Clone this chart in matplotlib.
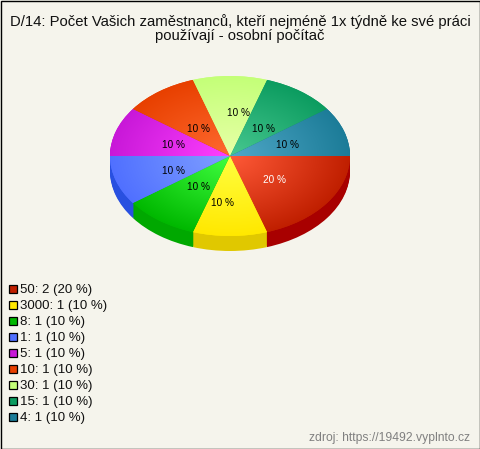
import matplotlib
matplotlib.use('Agg')
import matplotlib.pyplot as plt
import numpy as np
from matplotlib.colors import to_rgb
from matplotlib.patches import Rectangle

plt.rcParams['font.family'] = ['Liberation Sans', 'DejaVu Sans']

title = 'D/14: Počet Vašich zaměstnanců, kteří nejméně 1x týdně ke své práci\npoužívají - osobní počítač'
source = 'zdroj: https://19492.vyplnto.cz'
categories = ['50', '3000', '8', '1', '5', '10', '30', '15', '4']
counts = [2, 1, 1, 1, 1, 1, 1, 1, 1]
percents = [20, 10, 10, 10, 10, 10, 10, 10, 10]

edge_colors = ['#c01f00', '#ffe800', '#00b800', '#5070ff', '#c818d8', '#e84000', '#c4ff78', '#0c9c60', '#1c7c98']
center_colors = ['#ff5a38', '#ffff40', '#40ff40', '#80a0ff', '#ff40ff', '#ff6a30', '#e8ffa8', '#48c890', '#50a8c8']
side_colors = ['#a80000', '#e0c800', '#00a800', '#2850e0', '#a000b0', '#c03000', '#a0d060', '#087048', '#145c70']
label_colors = ['white'] + ['black'] * 8
# pixel nudges of the percent labels, the original does not centre them exactly
label_dx = [-4, -7, 4, 1, 1, 4, 8, -2, 0]
label_dy = [0, 7, -1, 3, 1, 5, -3, 5, 1]

W, H = 480, 449
cx, cy, rx, ry, depth = 230, 156, 120, 80, 15
bg = '#f5f4ec'

fig = plt.figure(figsize=(W / 100, H / 100), dpi=100, facecolor=bg)

# pie axes: data unit circle maps onto the ellipse
ax = fig.add_axes([0, 0, 1, 1])
ax.axis('off')

# side wall, stacked pies from the bottom up
for d in range(depth, 0, -1):
    ax.pie(counts, colors=side_colors, startangle=0, counterclock=False,
           center=(0, -d / ry), radius=1)

wedges, _, autotexts = ax.pie(counts, colors=edge_colors, startangle=0, counterclock=False,
                              autopct='%d %%', pctdistance=0.5, radius=1,
                              textprops={'fontsize': 7.2})

# radial gradient on every top slice
yy, xx = np.mgrid[-1:1:400j, -1:1:400j]
rr = np.clip(np.hypot(xx, yy), 0, 1)[..., None]
for w, c0, c1 in zip(wedges, center_colors, edge_colors):
    img = np.array(to_rgb(c0)) * (1 - rr) + np.array(to_rgb(c1)) * rr
    im = ax.imshow(img, extent=(-1, 1, -1, 1), origin='lower', aspect='auto', zorder=w.get_zorder() + 0.1)
    im.set_clip_path(w)

for t, col, dx, dy, p in zip(autotexts, label_colors, label_dx, label_dy, percents):
    x, y = t.get_position()
    t.set_position((x + dx / rx, y - dy / ry))
    t.set_text('%d %%' % p)
    t.set_color(col)
    t.set_zorder(10)

ax.set_aspect('auto')
ax.set_xlim(-cx / rx, (W - cx) / rx)
ax.set_ylim((cy - H) / ry, cy / ry)

# overlay in pixel coordinates for texts and legend
ov = fig.add_axes([0, 0, 1, 1], facecolor='none')
ov.set_xlim(0, W)
ov.set_ylim(H, 0)
ov.axis('off')

ov.text(240, 28.5, title, ha='center', va='center', fontsize=10.68, color='#111111', linespacing=1.08)

for i, (cat, n, p, col) in enumerate(zip(categories, counts, percents, edge_colors)):
    y = 289 + i * 16
    ov.add_patch(Rectangle((9.25, y - 3.75), 7.5, 7.5, facecolor=col, edgecolor='black', linewidth=0.9))
    ov.text(20, y + 1, '%s: %d (%d %%)' % (cat, n, p), ha='left', va='center', fontsize=9.5, color='#111111')

ov.text(470, 438, source, ha='right', va='center', fontsize=8.7, color='#808080')

ov.add_patch(Rectangle((0.5, 0.5), W - 1, H - 1, facecolor='none', edgecolor='black', linewidth=1))

fig.savefig('out.png', dpi=100, facecolor=bg)
